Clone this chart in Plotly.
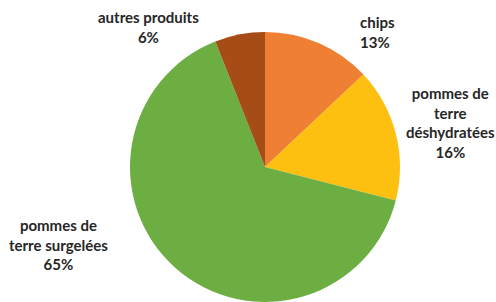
import plotly.graph_objects as go

categories = ["chips", "pommes de terre déshydratées", "pommes de terre surgelées", "autres produits"]
values = [13, 16, 65, 6]
label_texts = ["chips<br>13%", "pommes de<br>terre<br>déshydratées<br>16%", "pommes de<br>terre surgelées<br>65%", "autres produits<br>6%"]
colors = ["#EF7F33", "#FDC010", "#6DAE43", "#A64C17"]

W, H = 496, 302

fig = go.Figure(go.Pie(
    labels=categories,
    values=values,
    sort=False,
    direction="clockwise",
    rotation=0,
    marker=dict(colors=colors, line=dict(width=0)),
    textinfo="none",
    hoverinfo="label+percent",
    domain=dict(x=[130 / W, 400 / W], y=[0, 1 - 32 / H]),
    showlegend=False,
))

# label positions (paper px): x, y(center of block), align
label_pos = [
    (358, 32, "left", "left"),
    (450, 123, "center", "center"),
    (58, 244, "center", "center"),
    (148, 27, "center", "center"),
]
for txt, (x, y, anchor, align) in zip(label_texts, label_pos):
    fig.add_annotation(
        x=x / W, y=1 - y / H, xref="paper", yref="paper",
        text="<b>" + txt + "</b>", showarrow=False,
        xanchor=anchor, yanchor="middle", align=align,
        font=dict(family="Lato, Open Sans, sans-serif", size=15, color="#262626"),
    )

fig.update_layout(
    width=W, height=H,
    margin=dict(l=0, r=0, t=0, b=0),
    paper_bgcolor="white",
    plot_bgcolor="white",
)

fig.write_html(
    "out.html",
    config={"displayModeBar": False},
    post_script="document.body.style.margin='0';document.body.style.overflow='hidden';",
)
